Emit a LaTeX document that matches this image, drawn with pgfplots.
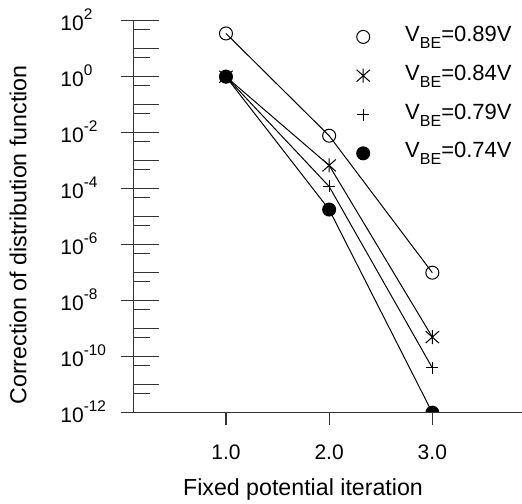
\documentclass[border=0pt]{standalone}
\usepackage{fontspec}
\setmainfont{Liberation Sans}
\usepackage{pgfplots}
\pgfplotsset{compat=1.18}

\newcommand\sups[1]{\raisebox{5.3pt}{\fontsize{7.7}{8}\selectfont #1}}
\newcommand\subs[1]{\raisebox{-3.5pt}{\fontsize{8}{9}\selectfont #1}}
\newcommand\dec[1]{10\sups{#1}}
\colorlet{axisgray}{black!80}

% asterisk: one vertical arm and two diagonals
\pgfdeclareplotmark{ast}{%
  \pgfpathmoveto{\pgfqpoint{0pt}{-\pgfplotmarksize}}%
  \pgfpathlineto{\pgfqpoint{0pt}{\pgfplotmarksize}}%
  \pgfpathmoveto{\pgfqpoint{-0.95\pgfplotmarksize}{-0.85\pgfplotmarksize}}%
  \pgfpathlineto{\pgfqpoint{0.95\pgfplotmarksize}{0.85\pgfplotmarksize}}%
  \pgfpathmoveto{\pgfqpoint{-0.95\pgfplotmarksize}{0.85\pgfplotmarksize}}%
  \pgfpathlineto{\pgfqpoint{0.95\pgfplotmarksize}{-0.85\pgfplotmarksize}}%
  \pgfusepathqstroke}

\begin{document}
\begin{tikzpicture}
% data axis with the y axis
\begin{axis}[
  at={(0,0)}, anchor=south west,
  scale only axis, width=194.35pt, height=196pt,
  xmin=0.102, xmax=3.869,
  ymode=log, ymin=1e-12, ymax=1e2,
  axis y line=left, hide x axis,
  axis line style={-, axisgray, line width=0.6pt},
  tick align=inside,
  major tick length=13pt, minor tick length=8.5pt,
  tick style={axisgray, line width=0.6pt},
  ytick={1e-12,1e-11,1e-10,1e-9,1e-8,1e-7,1e-6,1e-5,1e-4,1e-3,1e-2,1e-1,1,1e1,1e2},
  yticklabels={\dec{-12},,\dec{-10},,\dec{-8},,\dec{-6},,\dec{-4},,\dec{-2},,\dec{0},,\dec{2}},
  minor ytick={5e-12,5e-11,5e-10,5e-9,5e-8,5e-7,5e-6,5e-5,5e-4,5e-3,5e-2,5e-1,5,5e1},
  extra y ticks={1e-12,1e-10,1e-8,1e-6,1e-4,1e-2,1,1e2},
  extra y tick labels={},
  extra y tick style={tick align=outside, major tick length=6pt},
  yticklabel style={anchor=base west, inner sep=0pt, xshift=-36.65pt, yshift=-4.85pt,
    font=\fontsize{10.5}{12}\selectfont},
  ylabel={Correction of distribution function},
  every axis y label/.style={at={(axis description cs:-0.2966,0.4533)}, anchor=center,
    rotate=90, font=\fontsize{11.6}{13}\selectfont},
  clip=true, clip mode=individual, clip marker paths=true,
  legend image code/.code={\path (-3.25pt,0pt) (3.25pt,0pt); \draw[#1] plot coordinates {(0pt,0pt)};},
  legend style={at={(axis description cs:0.5725,0.989)}, anchor=north west,
    draw=none, fill=none, inner sep=0pt, column sep=17.5pt, row sep=7.9pt,
    font=\fontsize{11}{13}\selectfont,
    nodes={inner sep=0pt, text height=8pt, text depth=3.5pt}},
  legend cell align=left,
]
\addplot[black, line width=0.5pt, mark=o, mark size=3.25pt, mark options={solid, fill=white}]
  coordinates {(1,35) (2,7.8e-3) (3,1.0e-7)};
\addlegendentry{V\subs{BE}=0.89V}
\addplot[black, line width=0.5pt, mark=ast, mark size=3.5pt, mark options={solid}]
  coordinates {(1,1) (2,6.8e-4) (3,5e-10)};
\addlegendentry{V\subs{BE}=0.84V}
\addplot[black, line width=0.5pt, mark=+, mark size=3pt, mark options={solid}]
  coordinates {(1,1) (2,1.2e-4) (3,4e-11)};
\addlegendentry{V\subs{BE}=0.79V}
\addplot[black, line width=0.5pt, mark=*, mark size=3.25pt, mark options={solid, fill=black}]
  coordinates {(1,1) (2,1.8e-5) (3,1e-12)};
\addlegendentry{V\subs{BE}=0.74V}
\end{axis}
% x axis
\begin{axis}[
  at={(0,0)}, anchor=south west,
  scale only axis, width=194.35pt, height=196pt,
  xmin=0.102, xmax=3.869, ymin=0, ymax=1,
  axis x line=bottom, hide y axis,
  axis line style={-, axisgray, line width=0.6pt},
  tick align=outside, major tick length=6pt,
  tick style={axisgray, line width=0.6pt},
  xtick={1,2,3}, xticklabels={1.0,2.0,3.0}, minor xtick={},
  xticklabel style={anchor=base, inner sep=0pt, yshift=-17.4pt,
    font=\fontsize{10.5}{12}\selectfont},
  xlabel={Fixed potential iteration},
  every axis x label/.style={at={(axis description cs:0.4366,-0.21)}, anchor=base,
    font=\fontsize{11.6}{13}\selectfont},
]
\end{axis}
\pgfresetboundingbox
\path[use as bounding box] (-66.65pt,-45.15pt) rectangle (194.35pt,206.35pt);
\end{tikzpicture}
\end{document}
